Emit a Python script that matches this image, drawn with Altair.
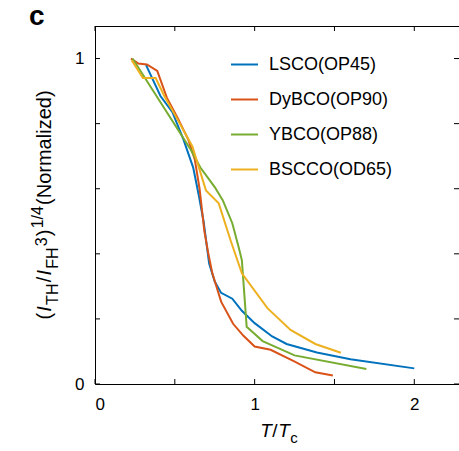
import altair as alt
import pandas as pd

# ---------------- data ----------------
series_names = ["LSCO(OP45)", "DyBCO(OP90)", "YBCO(OP88)", "BSCCO(OD65)"]
series_colors = ["#0072BD", "#D95319", "#77AC30", "#EDB120"]

lsco_x = [0.32, 0.41, 0.485, 0.555, 0.615, 0.65, 0.68, 0.715, 0.75, 0.79, 0.86, 0.92, 1.0, 1.11, 1.2, 1.39, 1.6, 2.0]
lsco_y = [0.98, 0.885, 0.835, 0.75, 0.665, 0.58, 0.5, 0.37, 0.315, 0.28, 0.262, 0.225, 0.187, 0.146, 0.123, 0.097, 0.076, 0.048]

dybco_x = [0.225, 0.27, 0.325, 0.39, 0.45, 0.52, 0.585, 0.625, 0.655, 0.685, 0.71, 0.735, 0.79, 0.865, 0.93, 1.0, 1.1, 1.245, 1.38, 1.49]
dybco_y = [1.0, 0.985, 0.982, 0.962, 0.88, 0.815, 0.75, 0.69, 0.6, 0.47, 0.4, 0.34, 0.253, 0.185, 0.148, 0.115, 0.105, 0.07, 0.036, 0.026]

ybco_x = [0.235, 0.6, 0.66, 0.75, 0.80, 0.86, 0.90, 0.92, 0.95, 1.05, 1.25, 1.70]
ybco_y = [1.0, 0.72, 0.665, 0.605, 0.565, 0.494, 0.42, 0.38, 0.176, 0.132, 0.088, 0.046]

bscco_x = [0.23, 0.30, 0.38, 0.435, 0.52, 0.61, 0.695, 0.775, 0.85, 0.92, 1.08, 1.225, 1.38, 1.54]
bscco_y = [0.995, 0.94, 0.94, 0.884, 0.81, 0.73, 0.595, 0.555, 0.44, 0.34, 0.233, 0.166, 0.123, 0.096]

x_tick_values = [0, 0.5, 1, 1.5, 2]
y_tick_values = [0, 0.2, 0.4, 0.6, 0.8, 1.0]
x_label_values = [0, 1, 2]
y_label_values = [0, 1]

# ---------------- layout ----------------
FONT = "Liberation Sans"
PAD_L, PAD_T = 95, 26
W, H = 364, 358
TICK = 5

rows = []
for name, xs, ys in [
    (series_names[0], lsco_x, lsco_y),
    (series_names[1], dybco_x, dybco_y),
    (series_names[2], ybco_x, ybco_y),
    (series_names[3], bscco_x, bscco_y),
]:
    for i, (a, b) in enumerate(zip(xs, ys)):
        rows.append({"x": a, "y": b, "series": name, "order": i})
df = pd.DataFrame(rows)

xscale = alt.Scale(domain=[0, 2.28], nice=False, zero=False)
yscale = alt.Scale(domain=[0, 1.1], nice=False, zero=False)
xaxis = alt.Axis(values=x_label_values, format="d", title=None, ticks=False,
                 domain=True, grid=False, labelPadding=12, labelFontSize=17,
                 labelFont=FONT, labelColor="black", domainColor="black", domainWidth=1)
yaxis = alt.Axis(values=y_label_values, format="d", title=None, ticks=False,
                 domain=True, grid=False, labelPadding=11, labelFontSize=17,
                 labelFont=FONT, labelColor="black", domainColor="black", domainWidth=1)

lines = alt.Chart(df).mark_line(strokeWidth=2).encode(
    x=alt.X("x:Q", scale=xscale, axis=xaxis),
    y=alt.Y("y:Q", scale=yscale, axis=yaxis),
    color=alt.Color(
        "series:N",
        scale=alt.Scale(domain=series_names, range=series_colors),
        legend=alt.Legend(
            title=None, orient="none", legendX=135, legendY=24,
            symbolType="stroke", symbolSize=729, symbolStrokeWidth=2,
            labelFontSize=18, labelFont=FONT, labelColor="black",
            labelOffset=10, rowPadding=11, padding=0,
        ),
    ),
    order="order:Q",
)

xt = pd.DataFrame({"v": x_tick_values})
yt = pd.DataFrame({"v": y_tick_values})
tick_layers = [
    alt.Chart(xt).mark_rule(color="black", strokeWidth=1).encode(
        x=alt.X("v:Q", scale=xscale, axis=xaxis), y=alt.value(H), y2=alt.value(H - TICK)),
    alt.Chart(xt).mark_rule(color="black", strokeWidth=1).encode(
        x=alt.X("v:Q", scale=xscale, axis=xaxis), y=alt.value(0), y2=alt.value(TICK)),
    alt.Chart(yt).mark_rule(color="black", strokeWidth=1).encode(
        y=alt.Y("v:Q", scale=yscale, axis=yaxis), x=alt.value(0), x2=alt.value(TICK)),
    alt.Chart(yt).mark_rule(color="black", strokeWidth=1).encode(
        y=alt.Y("v:Q", scale=yscale, axis=yaxis), x=alt.value(W - TICK), x2=alt.value(W)),
]

one = pd.DataFrame({"k": [0]})
top_frame = alt.Chart(one).mark_rule(color="black", strokeWidth=1).encode(
    x=alt.value(0), x2=alt.value(W), y=alt.value(0.5))

# Arial / Liberation Sans advance widths (per em)
ADV = {"(": .333, ")": .333, "I": .278, "T": .611, "H": .722, "/": .278, "F": .611,
       "3": .556, "1": .556, "4": .556, "N": .722, "o": .556, "r": .333, "m": .833,
       "a": .556, "l": .222, "i": .222, "z": .5, "e": .556, "d": .556, "c": .5}


def width(s, fs):
    return sum(ADV.get(ch, .55) for ch in s) * fs


text_layers = []

# y-axis title (rotated, runs upward)
MAIN, SUB = 20, 16
ysegs = [("(", "normal", MAIN, 51), ("I", "italic", MAIN, 51), ("TH", "normal", SUB, 58),
         ("/", "normal", MAIN, 51), ("I", "italic", MAIN, 51), ("FH", "normal", SUB, 58),
         ("3", "normal", SUB, 47), (")", "normal", MAIN, 51), ("1/4", "normal", SUB, 43),
         ("(Normalized)", "normal", MAIN, 51)]
GAP = 1.2
total = sum(width(s, fs) for s, _, fs, _ in ysegs) + GAP * (len(ysegs) - 1)
pos = 205 + total / 2
for s, style, fs, bx in ysegs:
    text_layers.append(
        alt.Chart(one).mark_text(text=s, font=FONT, fontSize=fs, fontStyle=style,
                                 angle=270, align="left", baseline="alphabetic",
                                 color="black").encode(
            x=alt.value(bx - PAD_L), y=alt.value(pos - PAD_T)))
    pos -= width(s, fs) + GAP

# x-axis title
XM, XS = 19, 15
xsegs = [("T", "italic", XM, 437), ("/", "normal", XM, 437), ("T", "italic", XM, 437),
         ("c", "normal", XS, 443)]
xtot = sum(width(s, fs) for s, _, fs, _ in xsegs) + 0.5 * 3
px = 279 - xtot / 2
for s, style, fs, by in xsegs:
    text_layers.append(
        alt.Chart(one).mark_text(text=s, font=FONT, fontSize=fs, fontStyle=style,
                                 align="left", baseline="alphabetic", color="black").encode(
            x=alt.value(px - PAD_L), y=alt.value(by - PAD_T)))
    px += width(s, fs) + 0.5

# panel label
text_layers.append(
    alt.Chart(one).mark_text(text="c", font=FONT, fontSize=28, fontWeight="bold",
                             align="left", baseline="alphabetic", color="black").encode(
        x=alt.value(29 - PAD_L), y=alt.value(25 - PAD_T)))

chart = alt.layer(lines, *tick_layers, top_frame, *text_layers).properties(
    width=W, height=H,
    background="white",
    autosize=alt.AutoSizeParams(type="none"),
    padding={"left": PAD_L, "top": PAD_T, "right": 0, "bottom": 451 - PAD_T - H},
).configure_view(stroke=None).configure_axis(
    domainColor="black", domainWidth=1, labelColor="black", labelFont=FONT,
    labelFontSize=17,
).configure_legend(labelFontSize=18, labelFont=FONT, labelColor="black")

chart.save("out.html", embed_options={"renderer": "svg", "actions": False})
